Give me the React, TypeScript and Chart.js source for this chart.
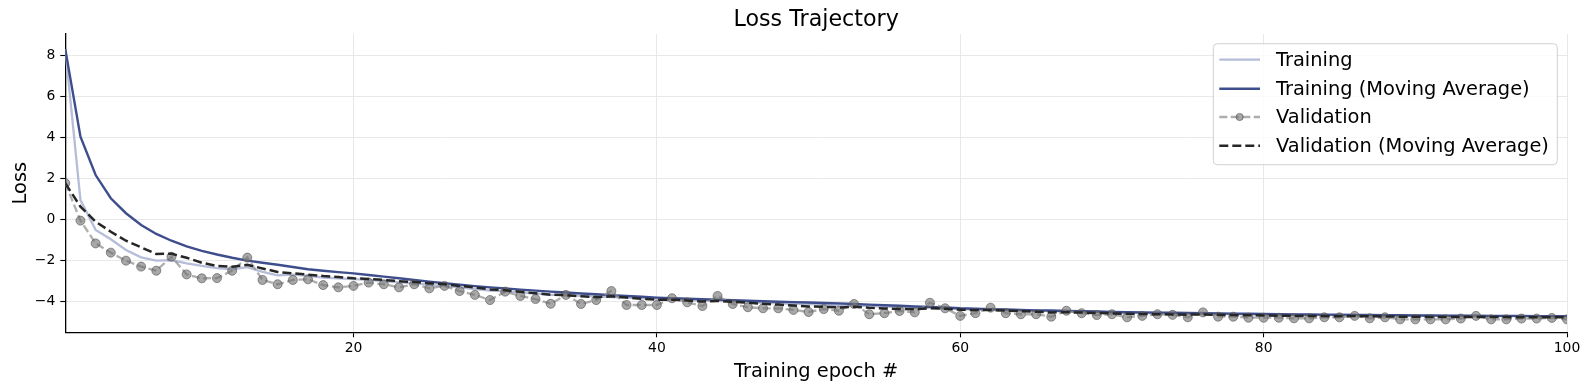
import React, { useEffect, useRef } from "react";
import { Chart, registerables } from "chart.js";

Chart.register(...registerables);

const epochs: number[] = Array.from({ length: 100 }, (_, i) => i + 1);

const trainingLoss: number[] = [
  8.3, 0.95, -0.5, -0.96, -1.48, -1.84, -2.0, -1.97, -2.13, -2.26,
  -2.36, -2.42, -2.32, -2.55, -2.72, -2.68, -2.74, -2.82, -2.86, -2.9,
  -2.94, -3.0, -3.06, -3.1, -3.18, -3.24, -3.3, -3.38, -3.46, -3.5,
  -3.55, -3.6, -3.66, -3.68, -3.72, -3.75, -3.77, -3.8, -3.84, -3.87,
  -3.89, -3.92, -3.95, -3.96, -3.99, -4.02, -4.05, -4.08, -4.1, -4.12,
  -4.14, -4.16, -4.18, -4.21, -4.24, -4.26, -4.28, -4.3, -4.33, -4.36,
  -4.38, -4.4, -4.42, -4.43, -4.45, -4.46, -4.47, -4.49, -4.5, -4.52,
  -4.53, -4.54, -4.55, -4.56, -4.57, -4.58, -4.59, -4.6, -4.61, -4.62,
  -4.63, -4.63, -4.64, -4.65, -4.65, -4.66, -4.66, -4.67, -4.67, -4.68,
  -4.68, -4.69, -4.69, -4.7, -4.7, -4.7, -4.71, -4.71, -4.71, -4.72,
];

const trainingMA: number[] = [
  8.3, 4.04, 2.17, 1.04, 0.31, -0.26, -0.7, -1.03, -1.3, -1.52,
  -1.7, -1.86, -2.0, -2.1, -2.2, -2.31, -2.42, -2.49, -2.56, -2.62,
  -2.7, -2.78, -2.86, -2.94, -3.02, -3.1, -3.17, -3.24, -3.3, -3.35,
  -3.41, -3.46, -3.51, -3.55, -3.6, -3.64, -3.68, -3.72, -3.76, -3.8,
  -3.83, -3.85, -3.88, -3.9, -3.93, -3.95, -3.98, -4.0, -4.02, -4.04,
  -4.06, -4.08, -4.11, -4.14, -4.17, -4.2, -4.23, -4.25, -4.28, -4.32,
  -4.34, -4.36, -4.38, -4.4, -4.42, -4.43, -4.45, -4.46, -4.48, -4.5,
  -4.51, -4.52, -4.53, -4.54, -4.55, -4.56, -4.57, -4.58, -4.59, -4.6,
  -4.61, -4.62, -4.62, -4.63, -4.63, -4.64, -4.65, -4.66, -4.66, -4.67,
  -4.67, -4.68, -4.68, -4.68, -4.69, -4.69, -4.69, -4.7, -4.7, -4.7,
];

const validationLoss: number[] = [
  1.77, -0.05, -1.16, -1.61, -2.0, -2.29, -2.49, -1.81, -2.67, -2.86,
  -2.85, -2.49, -1.85, -2.94, -3.15, -2.94, -2.91, -3.19, -3.3, -3.23,
  -3.07, -3.15, -3.3, -3.15, -3.35, -3.23, -3.48, -3.67, -3.92, -3.51,
  -3.72, -3.87, -4.1, -3.67, -4.11, -3.92, -3.48, -4.16, -4.16, -4.16,
  -3.83, -4.03, -4.21, -3.72, -4.11, -4.27, -4.32, -4.32, -4.4, -4.5,
  -4.36, -4.44, -4.11, -4.61, -4.56, -4.45, -4.52, -4.05, -4.32, -4.69,
  -4.56, -4.29, -4.56, -4.61, -4.61, -4.73, -4.44, -4.56, -4.65, -4.61,
  -4.76, -4.69, -4.61, -4.64, -4.76, -4.52, -4.73, -4.73, -4.78, -4.78,
  -4.78, -4.81, -4.81, -4.76, -4.76, -4.69, -4.81, -4.76, -4.86, -4.86,
  -4.86, -4.86, -4.82, -4.69, -4.86, -4.86, -4.82, -4.82, -4.79, -4.86,
];

const validationMA: number[] = [
  1.77, 0.63, -0.1, -0.59, -1.03, -1.35, -1.68, -1.66, -1.86, -2.1,
  -2.26, -2.3, -2.2, -2.38, -2.55, -2.62, -2.68, -2.75, -2.8, -2.86,
  -2.89, -2.94, -3.0, -3.04, -3.1, -3.15, -3.23, -3.31, -3.4, -3.44,
  -3.52, -3.59, -3.66, -3.68, -3.74, -3.78, -3.74, -3.8, -3.86, -3.9,
  -3.9, -3.94, -3.99, -3.96, -4.0, -4.05, -4.1, -4.14, -4.19, -4.23,
  -4.25, -4.28, -4.24, -4.3, -4.33, -4.35, -4.37, -4.32, -4.34, -4.39,
  -4.41, -4.4, -4.43, -4.46, -4.49, -4.52, -4.51, -4.53, -4.55, -4.57,
  -4.59, -4.6, -4.61, -4.62, -4.63, -4.62, -4.64, -4.65, -4.66, -4.67,
  -4.68, -4.69, -4.7, -4.7, -4.71, -4.7, -4.71, -4.72, -4.73, -4.73,
  -4.74, -4.74, -4.75, -4.74, -4.75, -4.75, -4.76, -4.76, -4.76, -4.76,
];

const seriesLabels: string[] = [
  "Training",
  "Training (Moving Average)",
  "Validation",
  "Validation (Moving Average)",
];

const xTickValues: number[] = [20, 40, 60, 80, 100];
const yTickValues: number[] = [-4, -2, 0, 2, 4, 6, 8];

const TITLE = "Loss Trajectory";
const X_TITLE = "Training epoch #";
const Y_TITLE = "Loss";
const FONT = "'DejaVu Sans', 'Liberation Sans', sans-serif";

const toPoints = (ys: number[]) => epochs.map((x, i) => ({ x, y: ys[i] }));

const textPlugin = {
  id: "mplText",
  afterDraw(chart: any) {
    const { ctx, chartArea } = chart;
    const cx = (chartArea.left + chartArea.right) / 2;
    const cy = (chartArea.top + chartArea.bottom) / 2;
    ctx.save();
    ctx.fillStyle = "#000";
    ctx.font = `22.2px ${FONT}`;
    ctx.textAlign = "center";
    ctx.textBaseline = "alphabetic";
    ctx.fillText(TITLE, cx, chartArea.top - 8.3);
    ctx.font = `19.4px ${FONT}`;
    ctx.fillText(X_TITLE, cx, 376.5);
    ctx.translate(26, cy);
    ctx.rotate(-Math.PI / 2);
    ctx.textBaseline = "alphabetic";
    ctx.fillText(Y_TITLE, 0, 0);
    ctx.restore();

    const ds = chart.data.datasets;
    const boxW = 344;
    const boxH = 121;
    const right = chartArea.right - 9.7;
    const top = chartArea.top + 9.7;
    const left = right - boxW;
    ctx.save();
    ctx.beginPath();
    const r = 4;
    ctx.moveTo(left + r, top);
    ctx.lineTo(left + boxW - r, top);
    ctx.arcTo(left + boxW, top, left + boxW, top + r, r);
    ctx.lineTo(left + boxW, top + boxH - r);
    ctx.arcTo(left + boxW, top + boxH, left + boxW - r, top + boxH, r);
    ctx.lineTo(left + r, top + boxH);
    ctx.arcTo(left, top + boxH, left, top + boxH - r, r);
    ctx.lineTo(left, top + r);
    ctx.arcTo(left, top, left + r, top, r);
    ctx.closePath();
    ctx.fillStyle = "rgba(255,255,255,0.8)";
    ctx.fill();
    ctx.strokeStyle = "#d0d0d0";
    ctx.lineWidth = 1;
    ctx.stroke();

    const rowY = [16, 45, 73.3, 102];
    ds.forEach((d: any, i: number) => {
      const y = top + rowY[i];
      const x0 = left + 6;
      const x1 = left + 46.7;
      ctx.save();
      ctx.strokeStyle = d.borderColor;
      ctx.lineWidth = d.borderWidth;
      ctx.setLineDash(d.borderDash || []);
      ctx.beginPath();
      ctx.moveTo(x0, y);
      ctx.lineTo(x1, y);
      ctx.stroke();
      ctx.setLineDash([]);
      if (d.pointRadius > 0) {
        ctx.beginPath();
        ctx.arc((x0 + x1) / 2, y, 3.6, 0, Math.PI * 2);
        ctx.fillStyle = d.pointBackgroundColor;
        ctx.fill();
        ctx.strokeStyle = d.pointBorderColor;
        ctx.lineWidth = d.pointBorderWidth;
        ctx.stroke();
      }
      ctx.restore();
      ctx.fillStyle = "#000";
      ctx.font = `19.4px ${FONT}`;
      ctx.textAlign = "left";
      ctx.textBaseline = "middle";
      ctx.fillText(d.label, left + 62.7, y + 1);
    });
    ctx.restore();
  },
};

export default function App() {
  const ref = useRef<HTMLCanvasElement | null>(null);

  useEffect(() => {
    document.body.style.margin = "0";
    const canvas = ref.current;
    if (!canvas) return;
    const chart = new Chart(canvas, {
      type: "line",
      data: {
        datasets: [
          {
            label: seriesLabels[0],
            data: toPoints(trainingLoss),
            borderColor: "#b5bdd9",
            borderWidth: 2.3,
            pointRadius: 0,
            tension: 0,
            order: 4,
            clip: 0,
          },
          {
            label: seriesLabels[1],
            data: toPoints(trainingMA),
            borderColor: "#3e4d8c",
            borderWidth: 2.4,
            pointRadius: 0,
            tension: 0,
            order: 3,
            clip: 0,
          },
          {
            label: seriesLabels[2],
            data: toPoints(validationLoss),
            borderColor: "rgba(140,140,140,0.7)",
            borderWidth: 2.3,
            borderDash: [8, 3.5],
            pointRadius: 4.5,
            pointBackgroundColor: "rgba(110,110,110,0.6)",
            pointBorderColor: "rgba(80,80,80,0.6)",
            pointBorderWidth: 1,
            tension: 0,
            order: 2,
            clip: 0,
          },
          {
            label: seriesLabels[3],
            data: toPoints(validationMA),
            borderColor: "#262626",
            borderWidth: 2.5,
            borderDash: [9, 4],
            pointRadius: 0,
            tension: 0,
            order: 1,
            clip: 0,
          },
        ],
      },
      options: {
        responsive: false,
        animation: false,
        devicePixelRatio: 1,
        layout: { padding: { left: 0, right: 22, top: 34, bottom: 0 } },
        plugins: {
          legend: { display: false },
          title: { display: false },
          tooltip: { enabled: false },
        },
        scales: {
          x: {
            type: "linear",
            min: 1,
            max: 100,
            afterFit: (s: any) => {
              s.height = 57.7;
            },
            afterBuildTicks: (s: any) => {
              s.ticks = xTickValues.map((v) => ({ value: v }));
            },
            ticks: {
              color: "#000",
              font: { family: FONT, size: 13.9 },
              padding: 3,
              maxRotation: 0,
              autoSkip: false,
              callback: (v: any) => String(v),
            },
            grid: {
              color: "#e8e8e8",
              lineWidth: 1,
              tickColor: "#000",
              tickLength: 5,
              tickWidth: 1.1,
            },
            border: { display: true, color: "#000", width: 1.3 },
          },
          y: {
            type: "linear",
            min: -5.49,
            max: 9.04,
            afterFit: (s: any) => {
              s.width = 65.3;
            },
            afterBuildTicks: (s: any) => {
              s.ticks = yTickValues.map((v) => ({ value: v }));
            },
            ticks: {
              color: "#000",
              font: { family: FONT, size: 13.9 },
              padding: 5,
              autoSkip: false,
              callback: (v: any) =>
                Number(v) < 0 ? "\u2212" + String(Math.abs(Number(v))) : String(v),
            },
            grid: {
              color: "#e8e8e8",
              lineWidth: 1,
              tickColor: "#000",
              tickLength: 5,
              tickWidth: 1.1,
            },
            border: { display: true, color: "#000", width: 1.3 },
          },
        },
      },
      plugins: [textPlugin],
    });
    return () => chart.destroy();
  }, []);

  return (
    <div style={{ width: 1589, height: 390, background: "#fff" }}>
      <canvas ref={ref} width={1589} height={390} style={{ display: "block" }} />
    </div>
  );
}
